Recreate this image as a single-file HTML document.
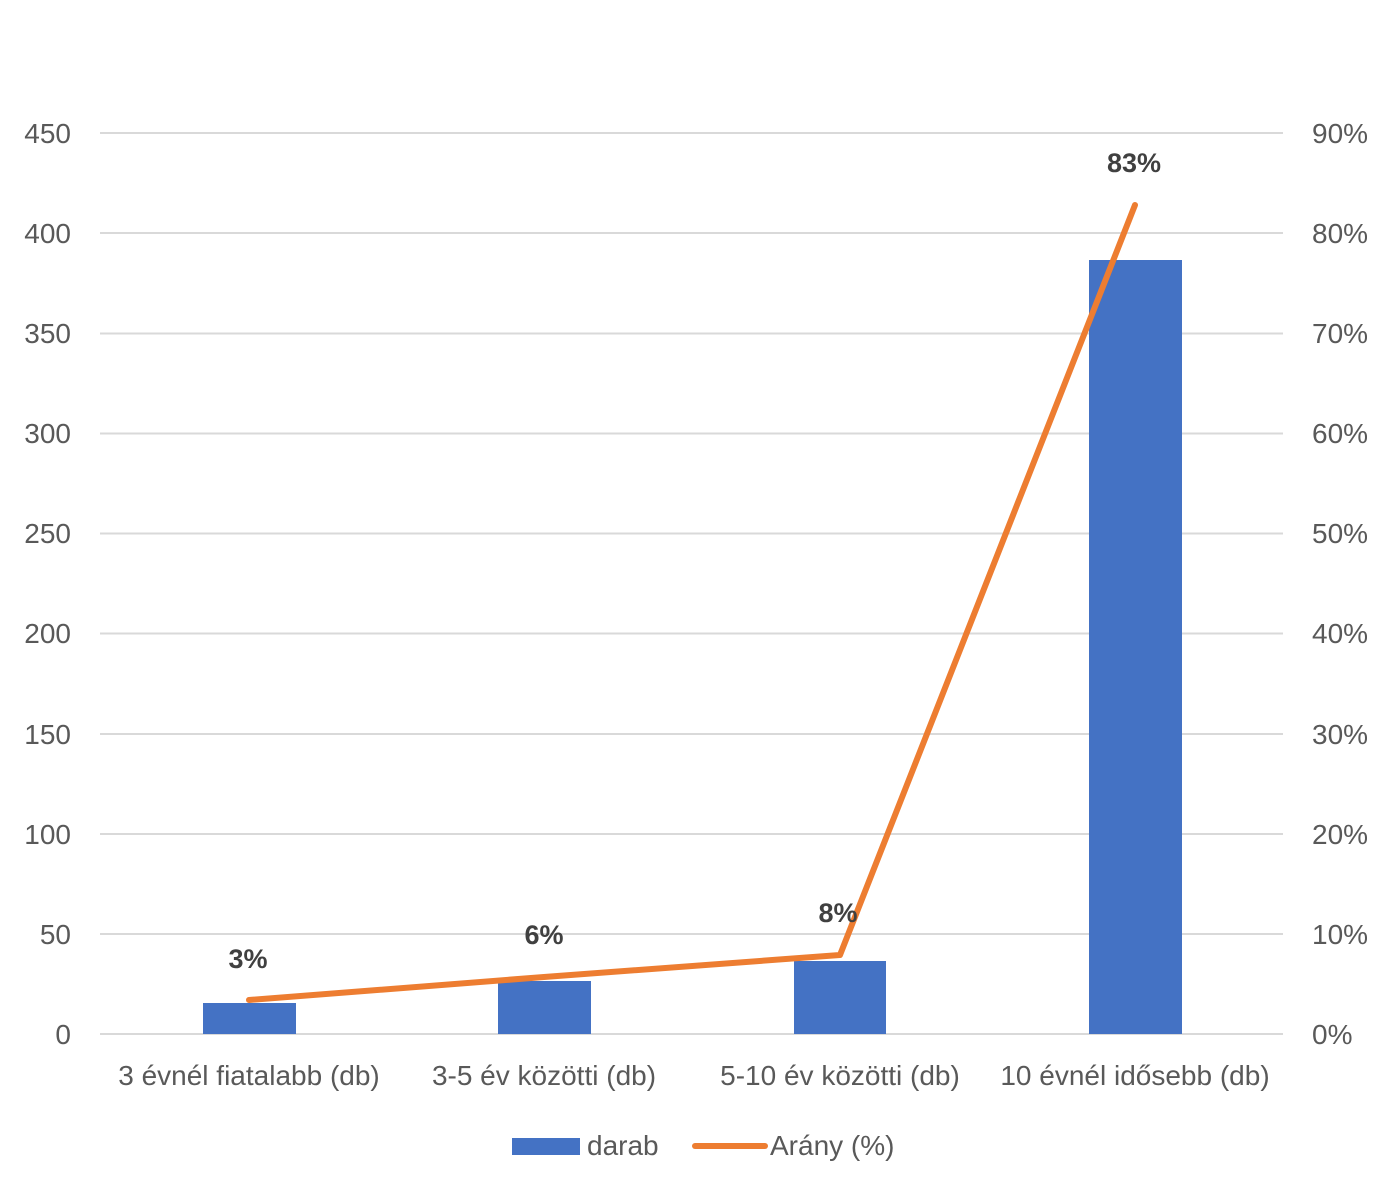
<!DOCTYPE html>
<html><head><meta charset="utf-8"><style>
html,body{margin:0;padding:0;background:#fff;}
svg{display:block;font-family:"Liberation Sans",sans-serif;}
</style></head><body>
<svg width="1392" height="1200" viewBox="0 0 1392 1200">
<g stroke="#d9d9d9" stroke-width="2">
<line x1="100" x2="1283" y1="133" y2="133"/>
<line x1="100" x2="1283" y1="233" y2="233"/>
<line x1="100" x2="1283" y1="333.5" y2="333.5"/>
<line x1="100" x2="1283" y1="433.5" y2="433.5"/>
<line x1="100" x2="1283" y1="533.5" y2="533.5"/>
<line x1="100" x2="1283" y1="633.5" y2="633.5"/>
<line x1="100" x2="1283" y1="734" y2="734"/>
<line x1="100" x2="1283" y1="834" y2="834"/>
<line x1="100" x2="1283" y1="934" y2="934"/>
<line x1="100" x2="1283" y1="1034" y2="1034"/>
</g>
<g fill="#595959" font-size="28" text-anchor="end">
<text x="71" y="143">450</text><text x="71" y="243">400</text><text x="71" y="343">350</text>
<text x="71" y="443">300</text><text x="71" y="543">250</text><text x="71" y="643">200</text>
<text x="71" y="744">150</text><text x="71" y="844">100</text><text x="71" y="944">50</text>
<text x="71" y="1044">0</text>
</g>
<g fill="#595959" font-size="28" text-anchor="start">
<text x="1312" y="143">90%</text><text x="1312" y="243">80%</text><text x="1312" y="343">70%</text>
<text x="1312" y="443">60%</text><text x="1312" y="543">50%</text><text x="1312" y="643">40%</text>
<text x="1312" y="744">30%</text><text x="1312" y="844">20%</text><text x="1312" y="944">10%</text>
<text x="1312" y="1044">0%</text>
</g>
<g fill="#4472C4">
<rect x="203" y="1003" width="93" height="31"/>
<rect x="498" y="981" width="93" height="53"/>
<rect x="794" y="961" width="92" height="73"/>
<rect x="1089" y="260" width="93" height="774"/>
</g>
<polyline points="249,1000 544,977 840,955 1135,205" fill="none" stroke="#ED7D31" stroke-width="6" stroke-linejoin="round" stroke-linecap="round"/>
<g fill="#404040" font-size="27" font-weight="bold" text-anchor="middle">
<text x="248" y="968">3%</text><text x="544" y="944">6%</text>
<text x="838" y="922">8%</text><text x="1134" y="172">83%</text>
</g>
<g fill="#595959" font-size="28" text-anchor="middle">
<text x="249" y="1085">3 évnél fiatalabb (db)</text>
<text x="544" y="1085">3-5 év közötti (db)</text>
<text x="840" y="1085">5-10 év közötti (db)</text>
<text x="1135" y="1085">10 évnél idősebb (db)</text>
</g>
<rect x="512" y="1138" width="68" height="17" fill="#4472C4"/>
<text x="587" y="1155" fill="#595959" font-size="28">darab</text>
<line x1="695" x2="765" y1="1146" y2="1146" stroke="#ED7D31" stroke-width="6" stroke-linecap="round"/>
<text x="770" y="1155" fill="#595959" font-size="28">Arány (%)</text>
</svg>
</body></html>
